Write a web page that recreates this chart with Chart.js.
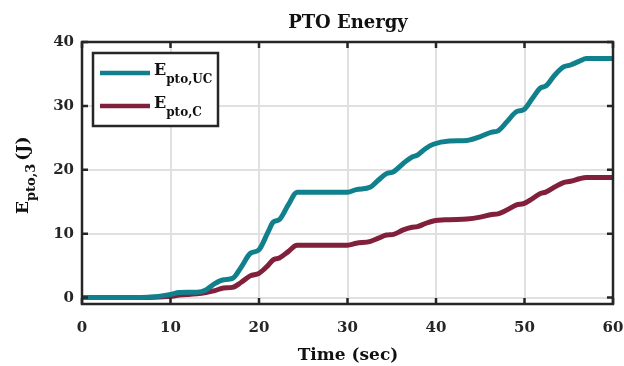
<!DOCTYPE html>
<html>
<head>
<meta charset="utf-8">
<script src="https://cdn.jsdelivr.net/npm/chart.js@4"></script>
<style>
  html, body { margin: 0; padding: 0; background: #fff; }
  #wrap { width: 624px; height: 366px; }
</style>
</head>
<body>
<div id="wrap"><canvas id="energyChart" width="624" height="366"></canvas></div>
<script>
// time samples (sec)
const times = [0, 5, 8, 10, 11, 13, 14, 15, 16, 17, 18, 19, 20, 21, 21.6, 22.3, 23.3, 24.3,
    30, 31, 32.6, 33.5, 34.4, 35.2, 36.3, 37.3, 37.9, 38.8, 39.7, 41.5, 43.5, 45, 46.3, 47,
    48, 49.1, 49.9, 50.9, 51.8, 52.4, 53.4, 54.4, 55.2, 56.2, 57, 60];
// E_pto,UC (J)
const energyUC = [0, 0, 0.1, 0.5, 0.8, 0.85, 1.2, 2.2, 2.8, 3.0, 4.8, 6.9, 7.5, 10.2, 11.8, 12.2, 14.5, 16.5,
    16.5, 16.9, 17.3, 18.4, 19.4, 19.7, 21.0, 22.0, 22.3, 23.3, 24.0, 24.5, 24.6, 25.2, 25.9, 26.1,
    27.5, 29.1, 29.4, 31.2, 32.8, 33.1, 34.8, 36.1, 36.4, 37.0, 37.4, 37.4];
// E_pto,C (J)
const energyC = [0, 0, 0.05, 0.2, 0.4, 0.6, 0.8, 1.1, 1.5, 1.6, 2.4, 3.4, 3.8, 5.0, 5.9, 6.2, 7.2, 8.2,
    8.2, 8.5, 8.8, 9.3, 9.8, 9.9, 10.6, 11.0, 11.1, 11.6, 12.0, 12.2, 12.3, 12.6, 13.0, 13.1,
    13.7, 14.5, 14.7, 15.5, 16.3, 16.5, 17.3, 18.0, 18.2, 18.6, 18.8, 18.8];
const xTicks = [0, 10, 20, 30, 40, 50, 60];
const yTicks = [0, 10, 20, 30, 40];

const TEAL = 'rgb(16, 128, 140)';
const MAROON = 'rgb(128, 32, 58)';
const AXIS = '#262626';
const FONT = '"DejaVu Serif", serif';

function toPoints(ys) {
    return times.map((t, i) => ({ x: t, y: ys[i] }));
}

// draws text with a subscript part, returns end x
function subText(ctx, main, sub, x, y, mainSize, subSize, drop) {
    ctx.font = 'bold ' + mainSize + 'px ' + FONT;
    ctx.fillText(main, x, y);
    x += ctx.measureText(main).width;
    ctx.font = 'bold ' + subSize + 'px ' + FONT;
    ctx.fillText(sub, x, y + drop);
    return x + ctx.measureText(sub).width;
}

const decor = {
    id: 'decor',
    afterDatasetsDraw(chart) {
        const ctx = chart.ctx;
        const a = chart.chartArea;
        const xs = chart.scales.x, ys = chart.scales.y;
        ctx.save();
        // axes box
        ctx.strokeStyle = AXIS;
        ctx.lineWidth = 2.5;
        ctx.strokeRect(a.left, a.top, a.right - a.left, a.bottom - a.top);
        // inward ticks on all sides
        ctx.beginPath();
        xTicks.forEach(v => {
            const px = xs.getPixelForValue(v);
            ctx.moveTo(px, a.bottom); ctx.lineTo(px, a.bottom - 6);
            ctx.moveTo(px, a.top); ctx.lineTo(px, a.top + 6);
        });
        yTicks.forEach(v => {
            const py = ys.getPixelForValue(v);
            ctx.moveTo(a.left, py); ctx.lineTo(a.left + 6, py);
            ctx.moveTo(a.right, py); ctx.lineTo(a.right - 6, py);
        });
        ctx.stroke();

        // legend
        ctx.fillStyle = '#fff';
        ctx.fillRect(93, 53, 125, 73);
        ctx.strokeStyle = AXIS;
        ctx.lineWidth = 2.5;
        ctx.strokeRect(93, 53, 125, 73);
        const items = [[TEAL, 'pto,UC', 73], [MAROON, 'pto,C', 106]];
        items.forEach(([col, sub, ly]) => {
            ctx.strokeStyle = col;
            ctx.lineWidth = 4.5;
            ctx.beginPath();
            ctx.moveTo(100, ly); ctx.lineTo(150, ly);
            ctx.stroke();
            ctx.fillStyle = '#111';
            ctx.textBaseline = 'alphabetic';
            ctx.textAlign = 'left';
            subText(ctx, 'E', sub, 154, ly + 2, 16, 12, 8);
        });

        // title
        ctx.fillStyle = '#111';
        ctx.textAlign = 'center';
        ctx.textBaseline = 'alphabetic';
        ctx.font = 'bold 18px ' + FONT;
        ctx.fillText('PTO Energy', 348, 28);
        // x title
        ctx.font = 'bold 17px ' + FONT;
        ctx.fillText('Time (sec)', 348, 360);
        // y title (rotated, with subscript)
        ctx.translate(28, 214);
        ctx.rotate(-Math.PI / 2);
        ctx.textAlign = 'left';
        const ex = subText(ctx, 'E', 'pto,3', 0, 0, 17, 13, 7);
        ctx.font = 'bold 17px ' + FONT;
        ctx.fillText('(J)', ex + 3, 0);
        ctx.restore();
    }
};

const energyCtx = document.getElementById('energyChart').getContext('2d');
const energyChart = new Chart(energyCtx, {
    type: 'line',
    data: {
        datasets: [{
            label: 'E_pto,UC',
            data: toPoints(energyUC),
            borderColor: TEAL,
            borderWidth: 5,
            pointRadius: 0,
            cubicInterpolationMode: 'monotone',
            fill: false
        }, {
            label: 'E_pto,C',
            data: toPoints(energyC),
            borderColor: MAROON,
            borderWidth: 5,
            pointRadius: 0,
            cubicInterpolationMode: 'monotone',
            fill: false
        }]
    },
    options: {
        responsive: false,
        animation: false,
        layout: { padding: { top: 42, right: 11, left: 0, bottom: 0 } },
        plugins: {
            legend: { display: false },
            tooltip: { enabled: false }
        },
        scales: {
            x: {
                type: 'linear',
                min: 0,
                max: 60,
                afterFit: s => { s.height = 62; s.paddingLeft = 0; s.paddingRight = 0; },
                afterBuildTicks: s => { s.ticks = xTicks.map(v => ({ value: v })); },
                grid: { color: '#e0e0e0', lineWidth: 2, drawTicks: false },
                border: { display: false },
                ticks: {
                    color: AXIS,
                    padding: 15,
                    maxRotation: 0,
                    font: { family: FONT, size: 15, weight: 'bold' }
                }
            },
            y: {
                min: -1,
                max: 40,
                afterFit: s => { s.width = 82; s.paddingTop = 0; s.paddingBottom = 0; },
                afterBuildTicks: s => { s.ticks = yTicks.map(v => ({ value: v })); },
                grid: { color: '#e0e0e0', lineWidth: 2, drawTicks: false },
                border: { display: false },
                ticks: {
                    color: AXIS,
                    padding: 8,
                    font: { family: FONT, size: 15, weight: 'bold' }
                }
            }
        }
    },
    plugins: [decor]
});
</script>
</body>
</html>
